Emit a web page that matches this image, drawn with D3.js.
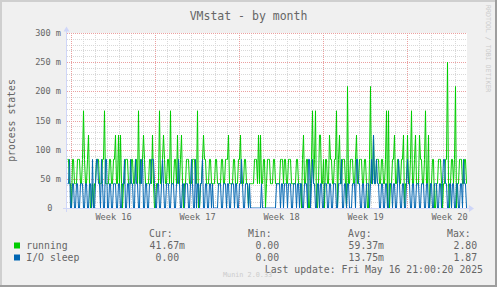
<!DOCTYPE html>
<html><head><meta charset="utf-8">
<script src="https://cdn.jsdelivr.net/npm/d3@7"></script>
<style>
html,body{margin:0;padding:0;background:#F0F0F0;overflow:hidden;}
svg{display:block;}
text{font-family:"DejaVu Sans Mono",monospace;}
</style></head><body>
<svg id="c" width="497" height="287"></svg>
<script>
// ---------------- data ----------------
const title = "VMstat - by month";
const yLabel = "process states";
const yTickValues = [0, 0.05, 0.1, 0.15, 0.2, 0.25, 0.3];
const yTickLabels = ["0", "50 m", "100 m", "150 m", "200 m", "250 m", "300 m"];
const seriesNames = ["running", "I/O sleep"];
const seriesColors = ["#00CC00", "#0066B3"];
const legendHeaders = ["Cur:", "Min:", "Avg:", "Max:"];
const runningStats = ["41.67m", "0.00\u00a0", "59.37m", "2.80\u00a0"];
const ioSleepStats = ["0.00\u00a0", "0.00\u00a0", "13.75m", "1.87\u00a0"];
const lastUpdate = "Last update: Fri May 16 21:00:20 2025";
const watermark = "RRDTOOL / TOBI OETIKER";
const version = "Munin 2.0.33";
const endTime = Date.UTC(2025, 4, 16, 23, 0, 0);
const stepHours = 2;
const unit = 1 / 24; // values below are in multiples of 41.67m

const running = [
 2,2,1,1,0,2,2,1,1,1, 2,2,2,1,1,2,4,2,1,1, 2,3,1,0,0,1,0,1,1,2, 2,2,1,1,1,2,2,4,1,1, 1,1,2,2,1,1,2,2,3,1,
 1,3,1,3,1,0,1,1,2,2, 2,1,1,1,2,2,1,1,2,2, 1,4,1,1,2,2,3,2,1,1, 1,1,2,2,1,3,1,0,0,1, 1,1,4,1,1,2,3,2,1,1,
 2,2,1,4,1,1,1,2,2,1, 3,1,1,2,3,1,0,1,1,2, 2,2,1,1,1,2,2,2,1,1, 4,0,0,1,1,2,3,2,2,1, 1,1,2,2,1,1,1,1,2,2,
 1,1,1,1,2,2,1,1,2,2, 2,3,1,1,1,1,2,2,1,1, 1,2,2,3,1,1,1,2,2,1, 1,0,1,1,1,1,1,2,2,2, 1,3,1,3,1,1,2,2,0,1,
 2,2,2,1,1,1,2,2,1,1, 1,1,1,2,2,2,1,2,2,1, 1,2,2,2,1,1,1,1,1,2, 2,1,1,1,0,2,3,1,1,2, 2,0,0,1,2,4,1,2,4,0,
 0,1,3,3,1,1,2,0,2,2, 1,1,3,2,2,1,1,2,2,4, 0,2,3,1,1,2,2,2,1,0, 5,1,1,2,2,2,1,1,2,3, 1,1,2,2,2,1,1,2,2,1,
 0,0,2,5,1,1,3,1,1,2, 2,2,1,1,2,2,1,1,2,4, 0,4,0,1,1,2,2,3,1,1, 2,2,1,1,2,2,3,0,1,1, 3,1,1,2,4,1,1,2,3,1,
 1,1,3,2,2,1,1,2,4,1, 1,3,0,1,1,2,2,0,0,1, 1,2,2,2,1,0,1,1,2,2, 6,1,0,1,2,2,1,2,5,0, 1,1,2,2,2,1,1,2,2,1
];
const ioSleep = [
 1,1,2,0,0,1,1,0,0,1, 1,0,0,1,1,1,0,0,1,1, 0,0,1,1,0,2,0,0,1,2, 2,1,1,0,2,1,0,0,2,2, 0,0,1,1,0,0,1,1,1,0,
 0,1,1,0,0,1,1,2,0,0, 1,1,0,2,1,1,0,0,2,1, 1,0,0,2,1,2,0,0,1,1, 0,0,1,1,2,2,2,1,0,0, 1,1,0,0,1,2,1,0,0,1,
 1,1,0,0,1,1,1,0,0,1, 1,2,1,0,0,1,1,0,1,1, 1,0,0,1,2,1,0,0,2,0, 1,1,0,1,1,2,0,0,1,1, 0,0,1,1,0,1,0,0,0,0,
 0,1,1,1,0,0,1,1,1,0, 1,1,0,0,1,1,1,0,1,1, 0,0,1,1,2,1,0,0,1,1, 1,0,1,0,0,0,0,0,0,0, 0,0,0,0,1,0,0,0,0,0,
 0,0,0,0,0,0,0,0,0,1, 1,1,1,0,1,1,0,1,1,1, 0,1,1,1,0,0,1,1,1,0, 1,1,0,1,1,0,0,1,1,1, 0,2,2,0,1,2,1,1,0,0,
 1,1,0,1,1,0,0,1,1,1, 0,0,1,1,0,0,1,1,1,0, 0,1,1,1,2,0,0,1,1,0, 1,1,0,0,0,1,1,1,0,2, 2,1,1,0,0,1,1,0,0,1,
 1,1,0,1,2,1,3,1,1,2, 1,1,0,0,1,1,0,0,1,1, 0,0,1,1,1,0,1,1,0,0, 1,2,1,0,0,1,1,0,0,1, 2,1,1,0,0,1,1,0,0,1,
 1,1,0,0,1,1,1,0,0,1, 1,0,0,1,1,0,0,1,1,1, 0,0,1,1,0,1,2,2,1,1, 0,0,1,1,0,1,1,0,0,1, 1,0,0,1,1,0,2,1,1,0
];

// ---------------- chart ----------------
const W = 497, H = 287;
const plot = {left: 67, right: 467, top: 33, bottom: 208};
const n = running.length;
const stepMs = stepHours * 3600 * 1000;
const startTime = endTime - n * stepMs;

const svg = d3.select("#c");
const x = d3.scaleUtc().domain([new Date(startTime), new Date(endTime)]).range([plot.left, plot.right]);
const y = d3.scaleLinear().domain([0, 0.3]).range([plot.bottom, plot.top]);

// background + 3D border
svg.append("rect").attr("width", W).attr("height", H).attr("fill", "#F0F0F0");
svg.append("rect").attr("x", 0).attr("y", 0).attr("width", W).attr("height", 2).attr("fill", "#CFCFCF");
svg.append("rect").attr("x", 0).attr("y", 0).attr("width", 2).attr("height", H).attr("fill", "#CFCFCF");
svg.append("rect").attr("x", 0).attr("y", H - 2).attr("width", W).attr("height", 2).attr("fill", "#9E9E9E");
svg.append("rect").attr("x", W - 2).attr("y", 0).attr("width", 2).attr("height", H).attr("fill", "#9E9E9E");

// canvas
svg.append("rect").attr("x", plot.left).attr("y", plot.top)
  .attr("width", plot.right - plot.left).attr("height", plot.bottom - plot.top).attr("fill", "#FFFFFF");

const grid = svg.append("g");
const minorY = d3.range(0, 31).map(i => i / 100).filter(v => Math.round(v * 100) % 5 !== 0);
grid.selectAll("line.hmin").data(minorY).join("line")
  .attr("x1", plot.left).attr("x2", plot.right)
  .attr("y1", d => Math.round(y(d)) + 0.5).attr("y2", d => Math.round(y(d)) + 0.5)
  .attr("stroke", "#D8D8D8").attr("stroke-dasharray", "1,1");
const days = d3.utcDay.range(new Date(startTime), new Date(endTime)).filter(d => d.getUTCDay() !== 1);
grid.selectAll("line.vmin").data(days).join("line")
  .attr("x1", d => Math.floor(x(d)) + 0.5).attr("x2", d => Math.floor(x(d)) + 0.5)
  .attr("y1", plot.top).attr("y2", plot.bottom)
  .attr("stroke", "#D8D8D8").attr("stroke-dasharray", "1,1");
grid.selectAll("line.hmaj").data(yTickValues).join("line")
  .attr("x1", plot.left).attr("x2", plot.right)
  .attr("y1", d => Math.round(y(d)) + 0.5).attr("y2", d => Math.round(y(d)) + 0.5)
  .attr("stroke", "#EBA0A0").attr("stroke-dasharray", "1,1");
const mondays = d3.utcMonday.range(new Date(startTime), new Date(endTime));
grid.selectAll("line.vmaj").data(mondays).join("line")
  .attr("x1", d => Math.floor(x(d)) + 0.5).attr("x2", d => Math.floor(x(d)) + 0.5)
  .attr("y1", plot.top).attr("y2", plot.bottom)
  .attr("stroke", "#EBA0A0").attr("stroke-dasharray", "1,1");

// series (rrdtool style: one value per pixel, joined point to point)
const toPoints = arr => arr.map((u, i) => ({t: new Date(startTime + i * stepMs), v: u * unit}));
const line = d3.line().x(d => x(d.t) + 0.5).y(d => y(d.v)).curve(d3.curveLinear);
[running, ioSleep].forEach((arr, k) => {
  svg.append("path").datum(toPoints(arr)).attr("d", line)
    .attr("fill", "none").attr("stroke", seriesColors[k]).attr("stroke-width", 1);
});

// axes
const axisColor = "#CFD6F8";
svg.append("line").attr("x1", 63).attr("x2", 470).attr("y1", plot.bottom + 0.5).attr("y2", plot.bottom + 0.5)
  .attr("stroke", axisColor);
svg.append("line").attr("x1", plot.left - 0.5).attr("x2", plot.left - 0.5).attr("y1", plot.bottom + 4).attr("y2", 30)
  .attr("stroke", axisColor);
svg.append("path").attr("d", "M469,205 L474,208.5 L469,212 Z").attr("fill", axisColor);
svg.append("path").attr("d", "M63.5,31.5 L66.5,26.5 L69.5,31.5 Z").attr("fill", axisColor);

const fontColor = "#666666";
svg.selectAll("text.ytick").data(yTickValues).join("text")
  .attr("x", (d, i) => yTickLabels[i].indexOf(" ") < 0 ? 52.5 : 61)
  .attr("y", d => y(d) + 3)
  .attr("text-anchor", "end").attr("font-size", "8.6px").attr("fill", fontColor)
  .text((d, i) => yTickLabels[i]);

const weekFmt = d3.utcFormat("Week %V");
const weekCenters = d3.utcMonday.range(new Date(startTime - 7 * 864e5), new Date(endTime))
  .map(m => new Date(+m + 3.5 * 864e5))
  .filter(c => +c > startTime && +c < endTime);
svg.selectAll("text.xtick").data(weekCenters).join("text")
  .attr("x", d => x(d)).attr("y", 220)
  .attr("text-anchor", "middle").attr("font-size", "8.6px").attr("fill", fontColor)
  .text(d => weekFmt(new Date(+d - 3.5 * 864e5)));

svg.append("text").attr("x", 248.5).attr("y", 20).attr("text-anchor", "middle")
  .attr("font-size", "11.5px").attr("fill", fontColor).text(title);

svg.append("text").attr("transform", "translate(15,120.5) rotate(-90)")
  .attr("text-anchor", "middle").attr("font-size", "9.8px").attr("fill", fontColor).text(yLabel);

svg.append("text").attr("transform", "translate(485.5,5) rotate(90)")
  .attr("text-anchor", "start").attr("font-size", "6.6px").attr("fill", "#CCCCCC").text(watermark);

const colX = [149, 248, 348, 447];
const colEnd = [185, 285, 384, 483];
svg.selectAll("text.lh").data(legendHeaders).join("text")
  .attr("x", (d, i) => colX[i]).attr("y", 236.7)
  .attr("font-size", "9.8px").attr("fill", fontColor).text(d => d);

const rows = [runningStats, ioSleepStats];
const rowY = [248.8, 260.8];
rows.forEach((stats, r) => {
  svg.append("rect").attr("x", 14).attr("y", rowY[r] - 6.3).attr("width", 6).attr("height", 6)
    .attr("fill", seriesColors[r]);
  svg.append("text").attr("x", 26.3).attr("y", rowY[r]).attr("font-size", "9.8px")
    .attr("fill", fontColor).text(seriesNames[r]);
  svg.selectAll(null).data(stats).join("text")
    .attr("x", (d, i) => colEnd[i]).attr("y", rowY[r]).attr("text-anchor", "end")
    .attr("font-size", "9.8px").attr("fill", fontColor).text(d => d);
});

svg.append("text").attr("x", 483).attr("y", 273).attr("text-anchor", "end")
  .attr("font-size", "9.8px").attr("fill", fontColor).text(lastUpdate);

svg.append("text").attr("x", 223).attr("y", 277).attr("font-size", "6.8px")
  .attr("fill", "#CCCCCC").text(version);
</script>
</body></html>
